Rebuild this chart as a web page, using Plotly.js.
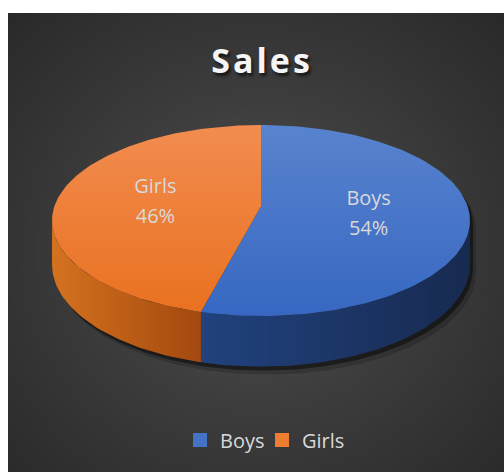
<!DOCTYPE html>
<html>
<head>
<meta charset="utf-8">
<script src="https://cdn.plot.ly/plotly-3.0.1.min.js"></script>
<style>
  html, body { margin:0; padding:0; background:#ffffff; width:504px; height:472px; overflow:hidden; }
  #bg { position:absolute; left:8px; top:13px; width:496px; height:459px;
        background: radial-gradient(ellipse farthest-corner at 50% 52%, #525252 0%, #3d3d3d 45%, #292929 100%); }
  #chart { position:absolute; left:0; top:0; width:504px; height:472px; }
  .gtitle { letter-spacing: 3px; }
</style>
</head>
<body>
<div id="bg"></div>
<div id="chart"></div>
<script>
// ---- data ----
const categories = ['Boys', 'Girls'];
const values = [54, 46];

// ---- styles ----
const topColors  = { Boys: ['#5883ce', '#3767c1'], Girls: ['#f28c50', '#e9711f'] };
const wallColors = { Boys: ['#21427e', '#172a50'], Girls: ['#d4721f', '#a3490f'] };
const legendColors = { Boys: '#4472c4', Girls: '#ed7d31' };
const textColor = '#d9d9d9';
const fontFam = '"Open Sans", "Noto Sans", sans-serif';

// ---- 3-D pie geometry (pixel space, mild perspective) ----
const cx = 261, cyc = 206.2, sx = 206.6, sy = 93.35, persp = 0.15, depth = 43;
const rad = d => d * Math.PI / 180;
function pt(theta, down, f) {
  f = f === undefined ? 1 : f;
  const u = f * Math.sin(rad(theta)), v = f * Math.cos(rad(theta));
  const w = 1 + persp * v;
  return [cx + sx * u / w, cyc - sy * v / w + (down || 0) / w];
}
function arc(a0, a1, down) {
  const n = Math.max(8, Math.ceil(Math.abs(a1 - a0) / 1.5));
  const out = [];
  for (let i = 0; i <= n; i++) out.push(pt(a0 + (a1 - a0) * i / n, down));
  return out;
}
// angles where the projected outline is widest (silhouette edges)
const sideR = 180 - Math.acos(persp) * 180 / Math.PI;
const sideL = 180 + Math.acos(persp) * 180 / Math.PI;

const total = values.reduce((a, b) => a + b, 0);
let start = 0;
const slices = categories.map((c, i) => {
  const a0 = start, a1 = start + values[i] / total * 360;
  start = a1;
  return { name: c, a0, a1, pct: Math.round(values[i] / total * 100) + '%' };
});

const traces = [];

// shadow under the pie
[[6, 8, 'rgba(0,0,0,0.18)'], [3, 4, 'rgba(0,0,0,0.45)']].forEach(([ox, oy, col]) => {
  const pts = arc(sideL - 360, sideR, 0).concat(arc(sideR, sideL, depth));
  traces.push({ type: 'scatter', mode: 'lines', x: pts.map(p => p[0] + ox), y: pts.map(p => p[1] + oy),
    fill: 'toself', fillcolor: col, line: { width: 0 }, hoverinfo: 'skip', showlegend: false });
});

// side walls (front visible part)
slices.forEach(s => {
  const lo = Math.max(s.a0, sideR), hi = Math.min(s.a1, sideL);
  if (hi <= lo) return;
  const pts = arc(lo, hi, 0).concat(arc(hi, lo, depth));
  const xs = pts.map(p => p[0]);
  const col = wallColors[s.name];
  traces.push({ type: 'scatter', mode: 'lines', x: xs, y: pts.map(p => p[1]),
    fill: 'toself', fillcolor: col[0],
    fillgradient: { type: 'horizontal', start: Math.min(...xs), stop: Math.max(...xs),
      colorscale: [[0, col[0]], [1, col[1]]] },
    line: { width: 0 }, hoverinfo: 'skip', showlegend: false });
});

// top faces
const ctr = pt(0, 0, 0);
const yTop = pt(0)[1], yBot = pt(180)[1];
slices.forEach(s => {
  const pts = [ctr].concat(arc(s.a0, s.a1, 0)).concat([ctr]);
  const col = topColors[s.name];
  traces.push({ type: 'scatter', mode: 'lines', x: pts.map(p => p[0]), y: pts.map(p => p[1]),
    fill: 'toself', fillcolor: col[0],
    fillgradient: { type: 'vertical', start: yTop, stop: yBot, colorscale: [[0, col[0]], [1, col[1]]] },
    line: { width: 0 }, hoverinfo: 'skip', showlegend: false, name: s.name });
});

// data labels (centre of each slice's top face)
const lab = slices.map(s => pt((s.a0 + s.a1) / 2, 0, 0.52));
traces.push({ type: 'scatter', mode: 'text', x: lab.map(p => p[0]), y: lab.map(p => p[1] - 12),
  text: slices.map(s => s.name), textposition: 'middle center',
  textfont: { family: fontFam, size: 20, color: textColor }, hoverinfo: 'skip', showlegend: false });
traces.push({ type: 'scatter', mode: 'text', x: lab.map(p => p[0]), y: lab.map(p => p[1] + 18),
  text: slices.map(s => s.pct), textposition: 'middle center',
  textfont: { family: fontFam, size: 20, color: textColor }, hoverinfo: 'skip', showlegend: false });

// legend entries
categories.forEach(c => {
  traces.push({ type: 'scatter', mode: 'markers', x: [null], y: [null], name: c,
    marker: { symbol: 'square', size: 14, color: legendColors[c] }, showlegend: true });
});

const layout = {
  width: 504, height: 472, autosize: false,
  margin: { l: 0, r: 0, t: 0, b: 0, pad: 0 },
  paper_bgcolor: 'rgba(0,0,0,0)', plot_bgcolor: 'rgba(0,0,0,0)',
  xaxis: { range: [0, 504], visible: false, fixedrange: true },
  yaxis: { range: [472, 0], visible: false, fixedrange: true },
  title: { text: 'Sales', x: 262 / 504, xanchor: 'center', xref: 'paper',
    y: 1 - 61 / 472, yanchor: 'middle', yref: 'paper',
    font: { family: fontFam, size: 34, weight: 'bold', color: '#f5f5f5', shadow: '2px 3px 3px rgba(0,0,0,0.6)' } },
  showlegend: true,
  legend: { orientation: 'h', x: 262 / 504, xanchor: 'center', y: 1 - 440 / 472, yanchor: 'middle',
    entrywidth: 37, entrywidthmode: 'pixels',
    font: { family: fontFam, size: 20, color: textColor }, bgcolor: 'rgba(0,0,0,0)', itemsizing: 'trace' }
};

Plotly.newPlot('chart', traces, layout, { staticPlot: true, displayModeBar: false });
</script>
</body>
</html>
